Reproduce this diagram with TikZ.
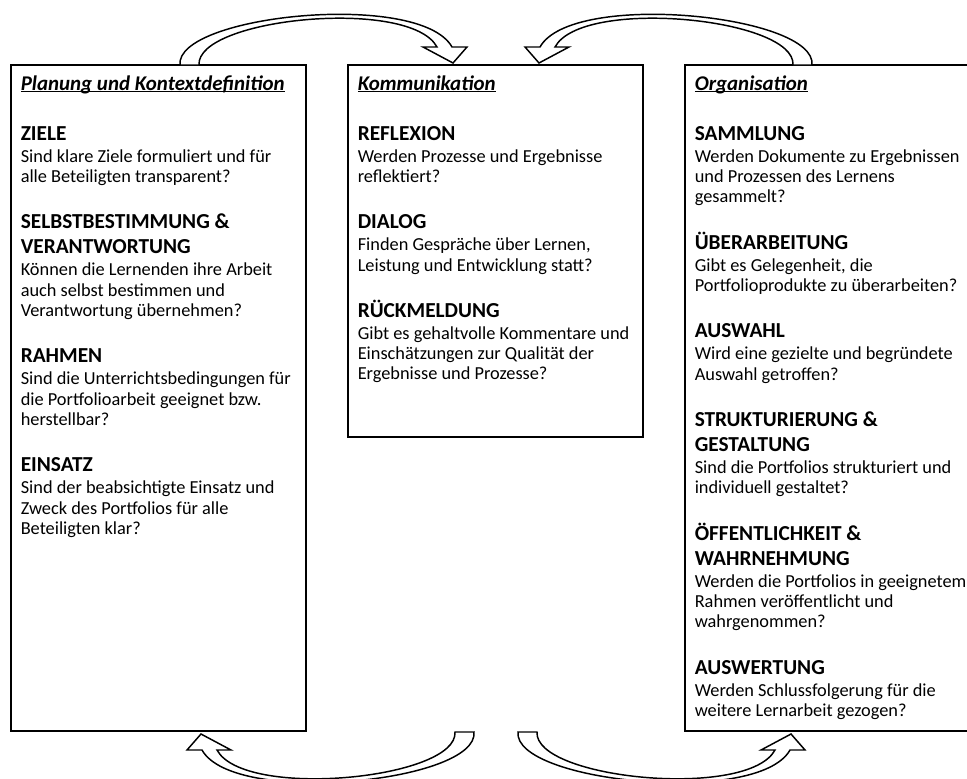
\documentclass[tikz,border=0pt]{standalone}
\usepackage{fontspec}
\setmainfont{Carlito}
\newcommand\bodyf{\fontsize{13.75}{16}\selectfont}
\newcommand\headf{\fontsize{16}{18}\selectfont\bfseries}
\newcommand\titlef{\fontsize{15.7}{18}\selectfont\bfseries\itshape}
\newcommand\myul[1]{\setbox0\hbox{#1}\rlap{\rule[-1.7pt]{\wd0}{0.8pt}}\box0}
\newcommand\putline[5]{\node[#1] (#2) at (#3,#4) {#5};}
\tikzset{
  body/.style={font=\bodyf, anchor=base west, inner sep=0pt},
  head/.style={font=\headf, anchor=base west, inner sep=0pt},
  ttl/.style={font=\titlef, anchor=base west, inner sep=0pt},
  panel/.style={draw=black, line width=1.5pt, fill=white},
  blockarrow/.style={draw=black, line width=1.1pt, fill=white, line join=miter}
}
\begin{document}
\begin{tikzpicture}[x=0.75pt, y=-0.75pt]
\useasboundingbox (0,0) rectangle (967,778);
\clip (0,0) rectangle (967,778);
\fill[white] (0,0) rectangle (967,778);

% panels
\draw[panel] (11,65) rectangle (306,731);
\draw[panel] (348,65) rectangle (643,437);
\draw[panel] (685,65) rectangle (990,731);

% block arrows (top-left shape, then transformed copies)
\newcommand\arrowshape{%
  \draw[blockarrow] (180,65) .. controls (175,15) and (420,-10) .. (452,47)
    -- (467,47) -- (453,63) -- (423,47) -- (437,47)
    .. controls (410,-3) and (196,18) .. (199,65) -- cycle;}
\begin{scope}
  \arrowshape
\end{scope}
\begin{scope}[shift={(992,0)}, xscale=-1]
  \arrowshape
\end{scope}
\begin{scope}[shift={(654,797)}, rotate=180]
  \arrowshape
\end{scope}
\begin{scope}[shift={(338,797)}, yscale=-1]
  \arrowshape
\end{scope}

% left panel
\putline{ttl}{t1}{20.5}{90}{\myul{Planung und Kontextdefinition}}
\putline{head}{l1}{20.5}{140}{ZIELE}
\putline{body}{l2}{20.5}{162}{Sind klare Ziele formuliert und für}
\putline{body}{l3}{20.5}{182.2}{alle Beteiligten transparent?}
\putline{head}{l4}{20.5}{228.8}{SELBSTBESTIMMUNG \&}
\putline{head}{l5}{20.5}{253.8}{VERANTWORTUNG}
\putline{body}{l6}{20.5}{275.8}{Können die Lernenden ihre Arbeit}
\putline{body}{l7}{20.5}{296}{auch selbst bestimmen und}
\putline{body}{l8}{20.5}{316.2}{Verantwortung übernehmen?}
\putline{head}{l9}{20.5}{362.8}{RAHMEN}
\putline{body}{l10}{20.5}{384.8}{Sind die Unterrichtsbedingungen für}
\putline{body}{l11}{20.5}{405}{die Portfolioarbeit geeignet bzw.}
\putline{body}{l12}{20.5}{425.2}{herstellbar?}
\putline{head}{l13}{20.5}{471.8}{EINSATZ}
\putline{body}{l14}{20.5}{493.8}{Sind der beabsichtigte Einsatz und}
\putline{body}{l15}{20.5}{514}{Zweck des Portfolios für alle}
\putline{body}{l16}{20.5}{534.2}{Beteiligten klar?}

% middle panel
\putline{ttl}{t2}{357.5}{90}{\myul{Kommunikation}}
\putline{head}{m1}{357.5}{140}{REFLEXION}
\putline{body}{m2}{357.5}{162}{Werden Prozesse und Ergebnisse}
\putline{body}{m3}{357.5}{182.2}{reflektiert?}
\putline{head}{m4}{357.5}{228.8}{DIALOG}
\putline{body}{m5}{357.5}{250.8}{Finden Gespräche über Lernen,}
\putline{body}{m6}{357.5}{271}{Leistung und Entwicklung statt?}
\putline{head}{m7}{357.5}{317.4}{RÜCKMELDUNG}
\putline{body}{m8}{357.5}{339.4}{Gibt es gehaltvolle Kommentare und}
\putline{body}{m9}{357.5}{359.6}{Einschätzungen zur Qualität der}
\putline{body}{m10}{357.5}{379.8}{Ergebnisse und Prozesse?}

% right panel
\putline{ttl}{t3}{694.5}{90}{\myul{Organisation}}
\putline{head}{r1}{694.5}{140}{SAMMLUNG}
\putline{body}{r2}{694.5}{162}{Werden Dokumente zu Ergebnissen}
\putline{body}{r3}{694.5}{182.2}{und Prozessen des Lernens}
\putline{body}{r4}{694.5}{202.4}{gesammelt?}
\putline{head}{r5}{694.5}{249}{ÜBERARBEITUNG}
\putline{body}{r6}{694.5}{271}{Gibt es Gelegenheit, die}
\putline{body}{r7}{694.5}{291.2}{Portfolioprodukte zu überarbeiten?}
\putline{head}{r8}{694.5}{337.8}{AUSWAHL}
\putline{body}{r9}{694.5}{359.8}{Wird eine gezielte und begründete}
\putline{body}{r10}{694.5}{380}{Auswahl getroffen?}
\putline{head}{r11}{694.5}{426.6}{STRUKTURIERUNG \&}
\putline{head}{r12}{694.5}{451.6}{GESTALTUNG}
\putline{body}{r13}{694.5}{473.6}{Sind die Portfolios strukturiert und}
\putline{body}{r14}{694.5}{493.8}{individuell gestaltet?}
\putline{head}{r15}{694.5}{540.4}{ÖFFENTLICHKEIT \&}
\putline{head}{r16}{694.5}{565.4}{WAHRNEHMUNG}
\putline{body}{r17}{694.5}{587.4}{Werden die Portfolios in geeignetem}
\putline{body}{r18}{694.5}{607.6}{Rahmen veröffentlicht und}
\putline{body}{r19}{694.5}{627.8}{wahrgenommen?}
\putline{head}{r20}{694.5}{674.4}{AUSWERTUNG}
\putline{body}{r21}{694.5}{696.4}{Werden Schlussfolgerung für die}
\putline{body}{r22}{694.5}{716.6}{weitere Lernarbeit gezogen?}
\end{tikzpicture}
\end{document}
